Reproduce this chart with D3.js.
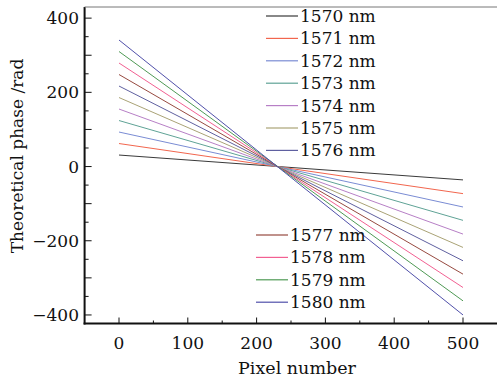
<!DOCTYPE html>
<html>
<head>
<meta charset="utf-8">
<script src="https://cdn.jsdelivr.net/npm/d3@7"></script>
<style>
    body { margin: 0; background: #fff; }
    svg text { font-family: "DejaVu Serif", "Liberation Serif", serif; fill: #111; }
</style>
</head>
<body>
<svg id="chart" width="497" height="382"></svg>
<script>
// wavelengths, phase at pixel 0 and at pixel 500
const wavelengths = [1570, 1571, 1572, 1573, 1574, 1575, 1576, 1577, 1578, 1579, 1580];
const pixels = [0, 500];
const phaseStart = [31, 62, 93, 124, 155, 186, 217, 248, 279, 310, 341];
const phaseEnd = [-36, -73, -109, -145, -182, -218, -254, -290, -326, -362, -400];
const colors = ['#3a3a3a', '#f2664e', '#7a8cd4', '#5fa396', '#b77fc6', '#aaa376',
    '#5f60a0', '#974a40', '#f26092', '#4f9a55', '#5050aa'];

const xTicks = [0, 100, 200, 300, 400, 500];
const yTicks = [-400, -200, 0, 200, 400];

const svg = d3.select('#chart');

const x = d3.scaleLinear().domain([-50, 550]).range([84.6, 497.4]);
const y = d3.scaleLinear().domain([-423, 430]).range([323.5, 7]);

const series = wavelengths.map((w, i) => ({
    name: w + ' nm',
    color: colors[i],
    values: [{ p: pixels[0], v: phaseStart[i] }, { p: pixels[1], v: phaseEnd[i] }]
}));

const line = d3.line()
    .x(d => x(d.p))
    .y(d => y(d.v));

svg.append('g')
    .selectAll('path')
    .data(series)
    .enter()
    .append('path')
    .attr('d', d => line(d.values))
    .attr('fill', 'none')
    .attr('stroke', d => d.color)
    .attr('stroke-width', 1);

// minor ticks every 50, major every 100, labels on the given ticks
const xAll = d3.range(-50, 551, 50);
const yAll = d3.range(-400, 401, 50);

const axes = svg.append('g').attr('stroke', '#111');

axes.selectAll('.xt')
    .data(xAll.filter(v => v >= 0 && v <= 500))
    .enter()
    .append('line')
    .attr('x1', d => x(d)).attr('x2', d => x(d))
    .attr('y1', y.range()[0])
    .attr('y2', d => y.range()[0] - (d % 100 === 0 ? 6 : 3))
    .attr('stroke-width', 1);

axes.selectAll('.yt')
    .data(yAll)
    .enter()
    .append('line')
    .attr('y1', d => y(d)).attr('y2', d => y(d))
    .attr('x1', x.range()[0])
    .attr('x2', d => x.range()[0] + (d % 100 === 0 ? 7 : 4))
    .attr('stroke-width', 1);

// frame: left and bottom axis, thin top line
axes.append('line')
    .attr('x1', x.range()[0]).attr('x2', x.range()[0])
    .attr('y1', y.range()[1]).attr('y2', y.range()[0] + 1)
    .attr('stroke-width', 2);
axes.append('line')
    .attr('x1', x.range()[0] - 1).attr('x2', 497)
    .attr('y1', y.range()[0]).attr('y2', y.range()[0])
    .attr('stroke-width', 2);
axes.append('line')
    .attr('x1', x.range()[0]).attr('x2', 497)
    .attr('y1', y.range()[1]).attr('y2', y.range()[1])
    .attr('stroke', '#777')
    .attr('stroke-width', 1);

svg.selectAll('.xl')
    .data(xTicks)
    .enter()
    .append('text')
    .attr('x', d => x(d))
    .attr('y', 349)
    .attr('text-anchor', 'middle')
    .style('font-size', '17px')
    .text(d => d);

svg.selectAll('.yl')
    .data(yTicks)
    .enter()
    .append('text')
    .attr('x', 79)
    .attr('y', d => y(d) + 6)
    .attr('text-anchor', 'end')
    .style('font-size', '17px')
    .text(d => d < 0 ? '\u2212' + Math.abs(d) : d);

svg.append('text')
    .attr('x', 297)
    .attr('y', 374)
    .attr('text-anchor', 'middle')
    .style('font-size', '17.5px')
    .text('Pixel number');

svg.append('text')
    .attr('transform', 'translate(23,156) rotate(-90)')
    .attr('text-anchor', 'middle')
    .style('font-size', '17px')
    .text('Theoretical phase /rad');

// legends: two blocks
const legendBlocks = [
    { items: series.slice(0, 7), x0: 266, y0: 16 },
    { items: series.slice(7), x0: 256, y0: 235 }
];
const rowH = 22.4;

legendBlocks.forEach(block => {
    const g = svg.append('g');
    const rows = g.selectAll('g')
        .data(block.items)
        .enter()
        .append('g')
        .attr('transform', (d, i) => `translate(${block.x0},${block.y0 + i * rowH})`);
    rows.append('line')
        .attr('x1', 0).attr('x2', 32)
        .attr('stroke', d => d.color)
        .attr('stroke-width', 1.2);
    rows.append('text')
        .attr('x', 34)
        .attr('y', 6)
        .style('font-size', '17px')
        .text(d => d.name);
});
</script>
</body>
</html>
